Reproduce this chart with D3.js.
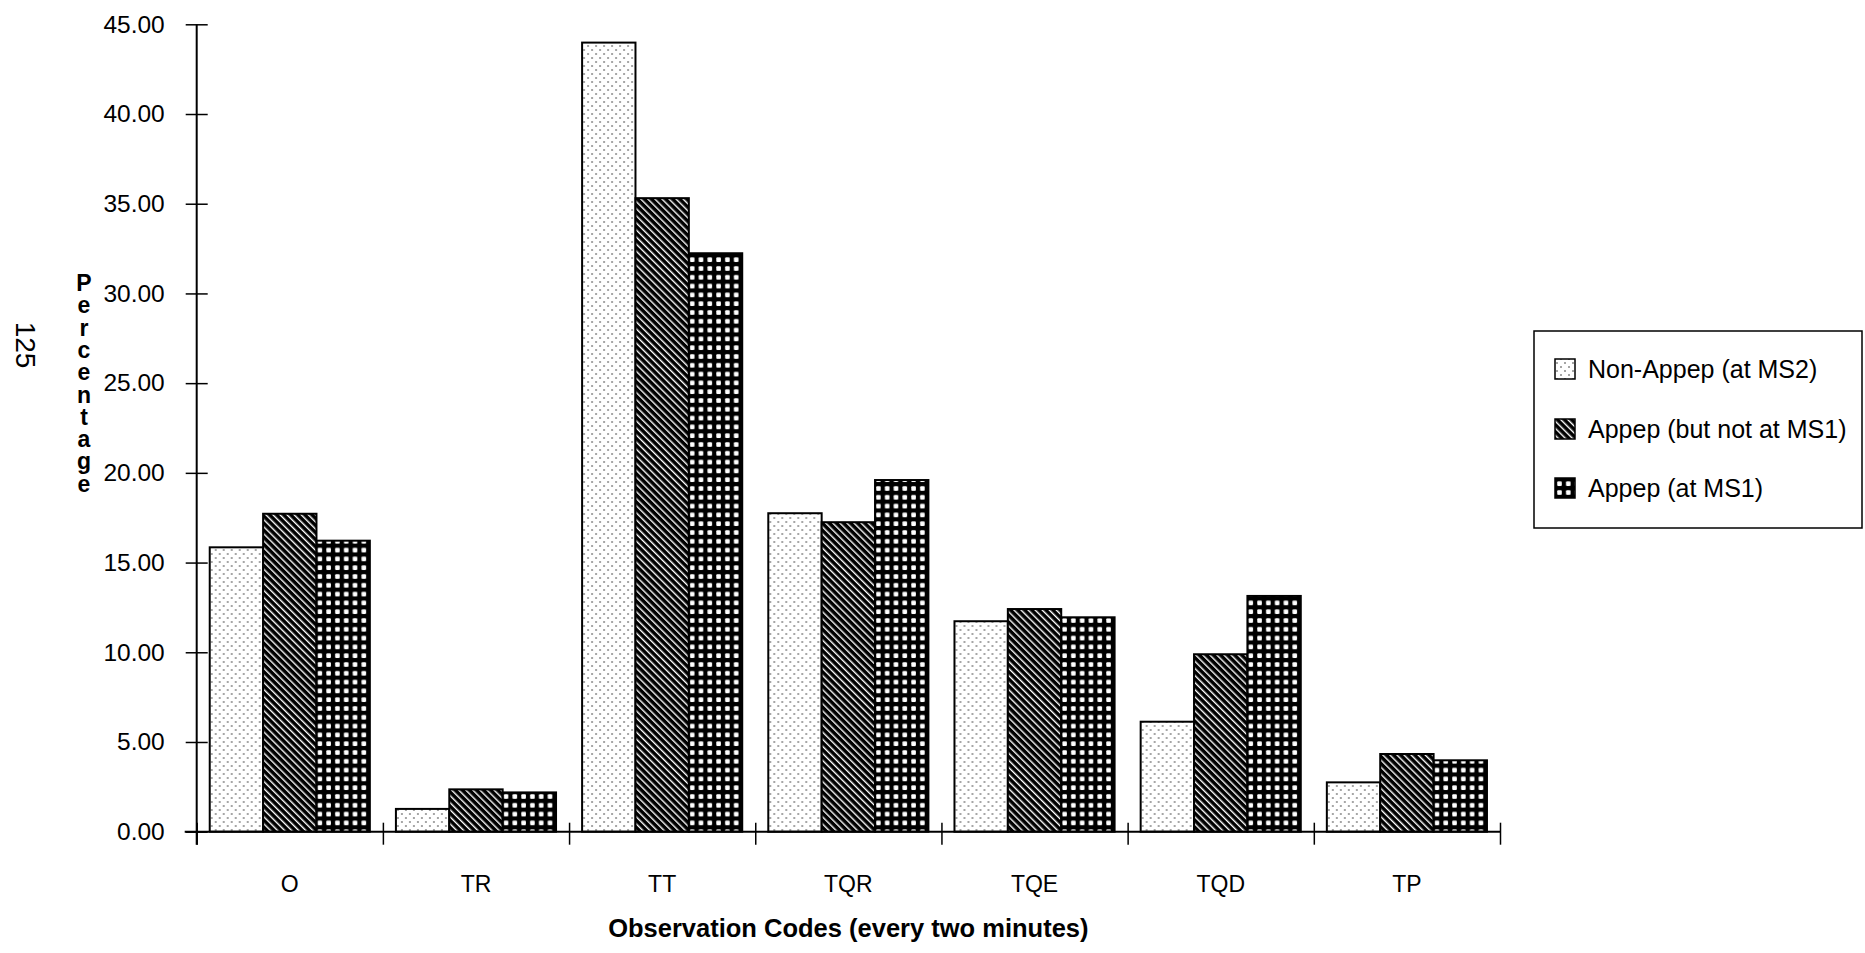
<!DOCTYPE html>
<html>
<head>
<meta charset="utf-8">
<script src="https://cdn.jsdelivr.net/npm/d3@7"></script>
<style>
    body { margin: 0; background: #fff; }
    svg text { font-family: "Liberation Sans", Arial, Helvetica, sans-serif; fill: #000; }
</style>
</head>
<body>
<svg id="chart" width="1865" height="953"></svg>
<script>
// values
var categories = ["O", "TR", "TT", "TQR", "TQE", "TQD", "TP"];
var seriesNames = ["Non-Appep (at MS2)", "Appep (but not at MS1)", "Appep (at MS1)"];
var nonAppep    = [15.85, 1.27, 43.98, 17.75, 11.73, 6.13, 2.75];
var appepNotMS1 = [17.72, 2.36, 35.31, 17.25, 12.41, 9.89, 4.33];
var appepMS1    = [16.22, 2.19, 32.24, 19.60, 11.95, 13.14, 3.98];
var yTicks = [0, 5, 10, 15, 20, 25, 30, 35, 40, 45];
var yLabel = "Percentage";
var xLabel = "Observation Codes (every two minutes)";

var seriesValues = [nonAppep, appepNotMS1, appepMS1];
var patternIds = ["stipple", "hatch", "grid"];

var svg = d3.select("#chart"),
    plotLeft = 196.7,
    plotRight = 1500,
    plotTop = 24.3,
    plotBottom = 831.7;

var defs = svg.append("defs");

// light dotted fill
var stipple = defs.append("pattern")
    .attr("id", "stipple")
    .attr("patternUnits", "userSpaceOnUse")
    .attr("width", 8)
    .attr("height", 8);
stipple.append("rect").attr("width", 8).attr("height", 8).attr("fill", "#fff");
stipple.append("circle").attr("cx", 2).attr("cy", 2).attr("r", 0.75).attr("fill", "#222");
stipple.append("circle").attr("cx", 6).attr("cy", 6).attr("r", 0.75).attr("fill", "#222");

// black with thin white diagonal lines
var hatch = defs.append("pattern")
    .attr("id", "hatch")
    .attr("patternUnits", "userSpaceOnUse")
    .attr("width", 5)
    .attr("height", 5)
    .attr("patternTransform", "rotate(-45)");
hatch.append("rect").attr("width", 5).attr("height", 5).attr("fill", "#000");
hatch.append("rect").attr("width", 1.4).attr("height", 5).attr("fill", "#fff");

// black with white squares
var grid = defs.append("pattern")
    .attr("id", "grid")
    .attr("patternUnits", "userSpaceOnUse")
    .attr("width", 8.8)
    .attr("height", 8.8);
grid.append("rect").attr("width", 8.8).attr("height", 8.8).attr("fill", "#000");
grid.append("rect").attr("x", 2.2).attr("y", 2.2).attr("width", 4.6).attr("height", 4.6)
    .attr("rx", 1).attr("fill", "#fff");

var x = d3.scaleBand()
    .domain(categories)
    .range([plotLeft, plotRight])
    .paddingInner(0.14)
    .paddingOuter(0.07);

var xSub = d3.scaleBand()
    .domain(d3.range(seriesNames.length))
    .range([0, x.bandwidth()]);

var xEdges = d3.scaleLinear()
    .domain([0, categories.length])
    .range([plotLeft, plotRight]);

var y = d3.scaleLinear()
    .domain([0, 45])
    .range([plotBottom, plotTop]);

// bars
var groups = svg.append("g")
    .attr("class", "bars")
    .selectAll("g")
    .data(categories)
    .enter().append("g")
    .attr("transform", function(d) { return "translate(" + x(d) + ",0)"; });

groups.selectAll("rect")
    .data(function(d, i) {
        return seriesValues.map(function(vals, s) { return { s: s, value: vals[i] }; });
    })
    .enter().append("rect")
    .attr("x", function(d) { return xSub(d.s); })
    .attr("y", function(d) { return y(d.value); })
    .attr("width", xSub.bandwidth())
    .attr("height", function(d) { return plotBottom - y(d.value); })
    .attr("fill", function(d) { return "url(#" + patternIds[d.s] + ")"; })
    .attr("stroke", "#000")
    .attr("stroke-width", 2);

// y axis, ticks cross the line
var yAxis = svg.append("g")
    .attr("transform", "translate(" + plotLeft + ",0)")
    .call(d3.axisLeft(y)
        .tickValues(yTicks)
        .tickSize(11)
        .tickSizeOuter(0)
        .tickPadding(21)
        .tickFormat(d3.format(".2f")));
yAxis.select(".domain").remove();
yAxis.selectAll(".tick line").attr("x1", 11).attr("stroke-width", 1.5);
yAxis.selectAll(".tick text").style("font-size", "24.5px");
yAxis.append("line")
    .attr("x1", 0).attr("x2", 0)
    .attr("y1", y(45)).attr("y2", plotBottom + 13)
    .attr("stroke", "#000").attr("stroke-width", 2);

// x axis: tick marks on category boundaries
var xAxisTicks = svg.append("g")
    .attr("transform", "translate(0," + plotBottom + ")")
    .call(d3.axisBottom(xEdges)
        .tickValues(d3.range(categories.length + 1))
        .tickSize(13)
        .tickSizeOuter(0)
        .tickFormat(""));
xAxisTicks.select(".domain").remove();
xAxisTicks.selectAll(".tick line").attr("y1", -9).attr("stroke-width", 1.5);
xAxisTicks.append("line")
    .attr("x1", plotLeft - 12).attr("x2", plotRight)
    .attr("y1", 0).attr("y2", 0)
    .attr("stroke", "#000").attr("stroke-width", 2);

// category labels
var xAxisLabels = svg.append("g")
    .attr("transform", "translate(0," + plotBottom + ")")
    .call(d3.axisBottom(x).tickSize(0).tickPadding(44));
xAxisLabels.select(".domain").remove();
xAxisLabels.selectAll(".tick text").style("font-size", "23px");

svg.append("text")
    .attr("x", (plotLeft + plotRight) / 2)
    .attr("y", 937)
    .attr("text-anchor", "middle")
    .style("font-size", "25.5px")
    .style("font-weight", "bold")
    .text(xLabel);

// vertical stacked letters for the y label
svg.append("g")
    .selectAll("text")
    .data(yLabel.split(""))
    .enter().append("text")
    .attr("x", 84)
    .attr("y", function(d, i) { return 291 + i * 22.3; })
    .attr("text-anchor", "middle")
    .style("font-size", "23px")
    .style("font-weight", "bold")
    .text(function(d) { return d; });

// handwritten page number on the scan
svg.append("text")
    .attr("transform", "translate(16,345) rotate(90)")
    .attr("text-anchor", "middle")
    .style("font-size", "28px")
    .text("125");

// legend
var legend = svg.append("g").attr("class", "legend");
legend.append("rect")
    .attr("x", 1534).attr("y", 331)
    .attr("width", 328).attr("height", 197)
    .attr("fill", "#fff")
    .attr("stroke", "#000")
    .attr("stroke-width", 1.5);

var legendRows = [369, 429, 488];
var item = legend.selectAll(".item")
    .data(seriesNames)
    .enter().append("g")
    .attr("class", "item")
    .attr("transform", function(d, i) { return "translate(1555," + legendRows[i] + ")"; });

item.append("rect")
    .attr("x", 0).attr("y", -10)
    .attr("width", 20).attr("height", 20)
    .attr("fill", function(d, i) { return "url(#" + patternIds[i] + ")"; })
    .attr("stroke", "#000")
    .attr("stroke-width", 1.5);

item.append("text")
    .attr("x", 33)
    .attr("dy", "0.36em")
    .style("font-size", "25px")
    .text(function(d) { return d; });
</script>
</body>
</html>
